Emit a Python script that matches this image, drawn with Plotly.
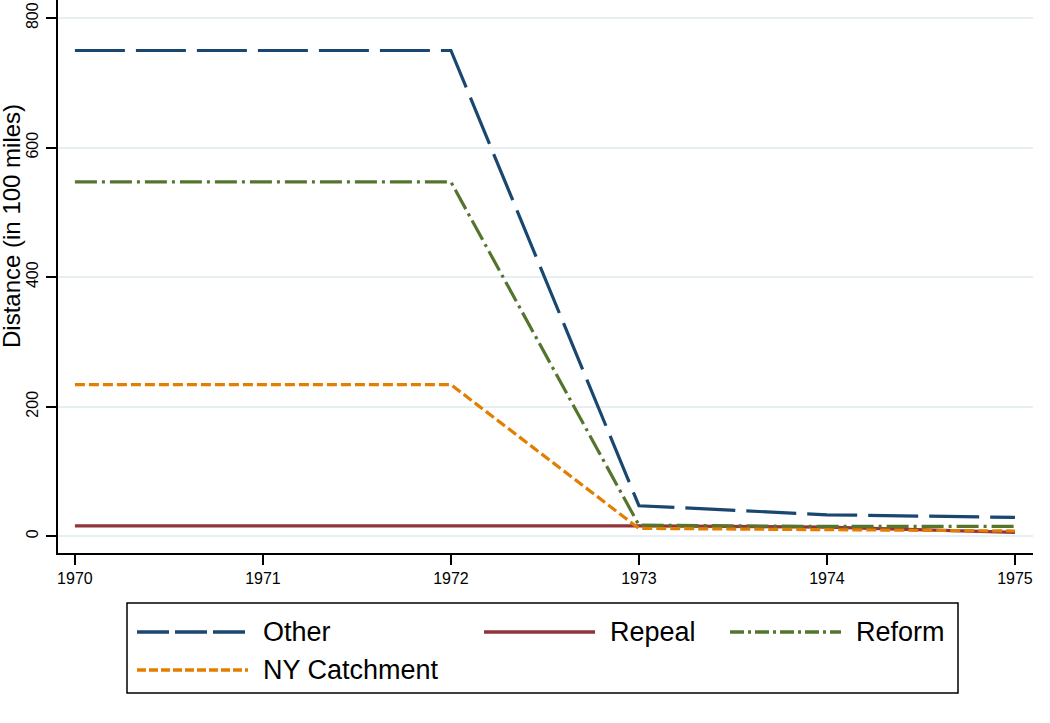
import plotly.graph_objects as go

years = [1970, 1971, 1972, 1973, 1974, 1975]
other = [750, 750, 750, 47, 33, 29]
repeal = [16, 16, 16, 16, 14, 6]
reform = [547, 547, 547, 17, 15, 15]
ny_catchment = [234, 234, 234, 12, 10, 8]

series_names = ["Other", "Repeal", "Reform", "NY Catchment"]
series_values = [other, repeal, reform, ny_catchment]
colors = ["#1a476f", "#90353b", "#55752f", "#e37e00"]
dashes = ["50px,11px", "solid", "22px,5px,3px,5px", "10px,4px"]
legend_dashes = ["32px,6px", "solid", "14px,4px,3px,4px", "9px,3px"]

y_ticks = [0, 200, 400, 600, 800]
x_ticks = years
y_title = "Distance (in 100 miles)"

fig = go.Figure()
for name, vals, c, d in zip(series_names, series_values, colors, dashes):
    fig.add_trace(go.Scatter(x=years, y=vals, mode="lines", name=name,
                             line=dict(color=c, width=3.2, dash=d), showlegend=False))

L, R, T, B = 58, 17, 0, 170
W, H = 1050, 723
pw, ph = W - L - R, H - T - B

def xp(px):
    return (px - L) / pw

def yp(py):
    return (H - B - py) / ph

FONT = "Liberation Sans, Arial"
shapes = []
annotations = []
# legend box
shapes.append(dict(type="rect", xref="paper", yref="paper", x0=xp(127), x1=xp(958),
                   y0=yp(693), y1=yp(603), line=dict(color="black", width=1.5),
                   fillcolor="white"))
positions = [(137, 632), (484, 632), (730, 632), (137, 670)]
for (sx, sy), name, c, d in zip(positions, series_names, colors, legend_dashes):
    shapes.append(dict(type="line", xref="paper", yref="paper", x0=xp(sx), x1=xp(sx + 111),
                       y0=yp(sy), y1=yp(sy), line=dict(color=c, width=3.5, dash=d)))
    annotations.append(dict(xref="paper", yref="paper", x=xp(sx + 124), y=yp(sy),
                            text=name, showarrow=False, xanchor="left", yanchor="middle",
                            font=dict(family=FONT, size=27, color="black")))
# y-axis title
annotations.append(dict(xref="paper", yref="paper", x=xp(11), y=yp(226), text=y_title,
                        textangle=-90, showarrow=False, xanchor="center", yanchor="middle",
                        font=dict(family=FONT, size=24, color="black")))

fig.update_layout(
    width=W, height=H,
    margin=dict(l=L, r=R, t=T, b=B, autoexpand=False),
    plot_bgcolor="white", paper_bgcolor="white",
    shapes=shapes, annotations=annotations,
    showlegend=False,
    font=dict(family=FONT, color="black"),
)
fig.update_xaxes(range=[1969.91, 1975.096], tickvals=x_ticks, ticktext=[str(v) for v in x_ticks],
                 showgrid=False, zeroline=False, showline=True, linecolor="black", linewidth=1.5,
                 ticks="outside", ticklen=10, tickwidth=1.5, tickcolor="black",
                 tickfont=dict(size=16), automargin=False)
fig.update_yaxes(range=[-26, 828], tickvals=y_ticks, ticktext=[str(v) for v in y_ticks],
                 showgrid=True, gridcolor="#e6eff1", gridwidth=2, zeroline=False,
                 showline=True, linecolor="black", linewidth=1.5,
                 ticks="outside", ticklen=10, tickwidth=1.5, tickcolor="black",
                 tickangle=-90, tickfont=dict(size=16), ticklabelstandoff=2,
                 automargin=False)

fig.write_html("out.html", config={"displayModeBar": False},
               post_script="document.body.style.margin='0';document.body.style.overflow='hidden';")
